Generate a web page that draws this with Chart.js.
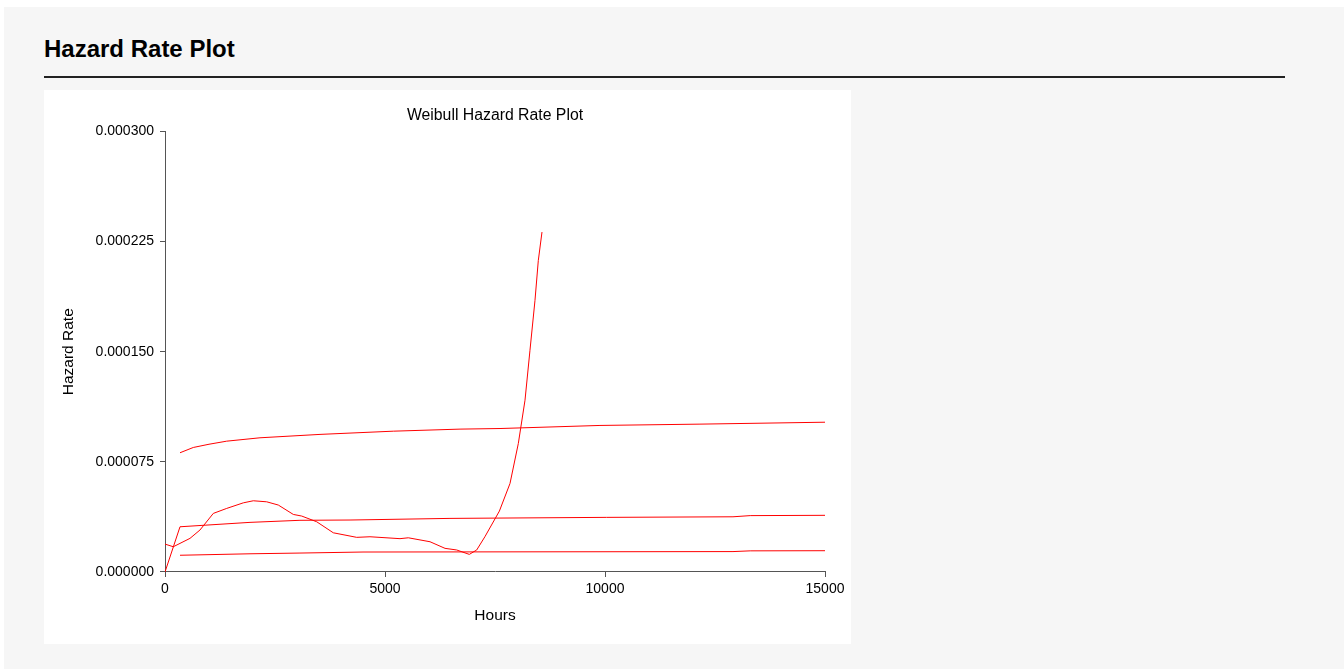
<!DOCTYPE html>
<html>
<head>
<meta charset="utf-8">
<title>Hazard Rate Plot</title>
<script src="https://cdn.jsdelivr.net/npm/chart.js@4/dist/chart.umd.min.js"></script>
<style>
    html, body { margin: 0; padding: 0; background: #fff; width: 1344px; height: 669px; overflow: hidden; }
    .page { position: absolute; left: 4px; top: 7px; right: 0; bottom: 0; background: #f6f6f6; }
    .heading { position: absolute; left: 44px; top: 37px; font: bold 24px "Liberation Sans", Arial, sans-serif; line-height: 24px; color: #000; }
    .rule { position: absolute; left: 44px; top: 76px; width: 1241px; height: 2px; background: #222; }
    .panel { position: absolute; left: 44px; top: 90px; width: 807px; height: 554px; background: #fff; }
</style>
</head>
<body>
<div class="page"></div>
<div class="heading">Hazard Rate Plot</div>
<div class="rule"></div>
<div class="panel"><canvas id="hazardChart" width="807" height="554"></canvas></div>

<script>
// hours on x, hazard rate on y
const upperHours = [341, 643, 1000, 1402, 2159, 3523, 5189, 6705, 7614, 9886, 12159, 15000];
const upperRate  = [81.2e-6, 84.8e-6, 87.0e-6, 89.1e-6, 91.4e-6, 93.7e-6, 95.9e-6, 97.3e-6, 97.7e-6, 99.8e-6, 100.7e-6, 102.0e-6];

const middleHours = [0, 341, 1932, 3068, 4205, 6477, 10039, 12909, 13300, 15000];
const middleRate  = [0, 30.8e-6, 33.8e-6, 35.2e-6, 35.4e-6, 36.5e-6, 37.2e-6, 37.6e-6, 38.4e-6, 38.6e-6];

const lowerHours = [341, 1932, 3068, 4500, 10000, 12909, 13300, 15000];
const lowerRate  = [11.4e-6, 12.4e-6, 12.9e-6, 13.6e-6, 13.8e-6, 13.9e-6, 14.4e-6, 14.5e-6];

const humpHours = [0, 189, 568, 795, 1098, 1402, 1780, 2007, 2311, 2575, 2916, 3107, 3448, 3825, 4357, 4659, 5341, 5530, 6023, 6364, 6629, 6916, 7084, 7270, 7600, 7841, 8030, 8182, 8295, 8409, 8484, 8568];
const humpRate  = [19.0e-6, 17.2e-6, 22.9e-6, 28.6e-6, 39.9e-6, 43.3e-6, 47.1e-6, 48.5e-6, 47.8e-6, 45.6e-6, 39.2e-6, 38.1e-6, 34.2e-6, 26.7e-6, 23.6e-6, 24.0e-6, 22.7e-6, 23.3e-6, 20.6e-6, 16.1e-6, 15.0e-6, 12.0e-6, 15.0e-6, 24.0e-6, 41.5e-6, 60.3e-6, 87.5e-6, 117e-6, 151e-6, 185e-6, 212e-6, 231.5e-6];

const yTicks = [0, 0.000075, 0.00015, 0.000225, 0.0003];
const xTicks = [0, 5000, 10000, 15000];

const fontFamily = '"Liberation Sans", Arial, sans-serif';

function toPoints(xs, ys) {
    return xs.map((x, i) => ({ x: x, y: ys[i] }));
}

function lineSet(label, xs, ys) {
    return {
        label: label,
        data: toPoints(xs, ys),
        showLine: true,
        borderColor: '#ff0000',
        borderWidth: 1,
        pointRadius: 0,
        tension: 0,
        fill: false
    };
}

new Chart(document.getElementById('hazardChart'), {
    type: 'scatter',
    data: {
        datasets: [
            lineSet('Upper', upperHours, upperRate),
            lineSet('Middle', middleHours, middleRate),
            lineSet('Lower', lowerHours, lowerRate),
            lineSet('Hazard', humpHours, humpRate)
        ]
    },
    options: {
        responsive: false,
        animation: false,
        layout: { padding: { left: 0, right: 26, top: 0, bottom: 0 } },
        plugins: {
            legend: { display: false },
            tooltip: { enabled: false },
            title: {
                display: true,
                fullSize: false,
                text: 'Weibull Hazard Rate Plot',
                color: '#000',
                font: { family: fontFamily, size: 15.8, weight: 'normal' },
                padding: { top: 16.5, bottom: 6 }
            }
        },
        scales: {
            x: {
                type: 'linear',
                min: 0,
                max: 15000,
                afterBuildTicks: (scale) => { scale.ticks = xTicks.map(v => ({ value: v })); },
                afterFit: (scale) => { scale.height = 72; },
                ticks: {
                    color: '#000',
                    padding: 4,
                    font: { family: fontFamily, size: 14 },
                    callback: (v) => String(v)
                },
                grid: { drawOnChartArea: false, drawTicks: true, tickLength: 5, color: '#555' },
                border: { display: true, color: '#555', width: 1 },
                title: {
                    display: true,
                    text: 'Hours',
                    color: '#000',
                    font: { family: fontFamily, size: 15.5 },
                    padding: { top: 0, bottom: 18.7 }
                }
            },
            y: {
                type: 'linear',
                min: 0,
                max: 0.0003,
                afterBuildTicks: (scale) => { scale.ticks = yTicks.map(v => ({ value: v })); },
                afterFit: (scale) => { scale.width = 121; },
                ticks: {
                    color: '#000',
                    padding: 6,
                    font: { family: fontFamily, size: 14 },
                    callback: (v) => Number(v).toFixed(6)
                },
                grid: { drawOnChartArea: false, drawTicks: true, tickLength: 5, color: '#555' },
                border: { display: true, color: '#555', width: 1 },
                title: {
                    display: true,
                    text: 'Hazard Rate',
                    color: '#000',
                    font: { family: fontFamily, size: 15.5 },
                    padding: { top: 15.7, bottom: 0 }
                }
            }
        }
    }
});
</script>
</body>
</html>
